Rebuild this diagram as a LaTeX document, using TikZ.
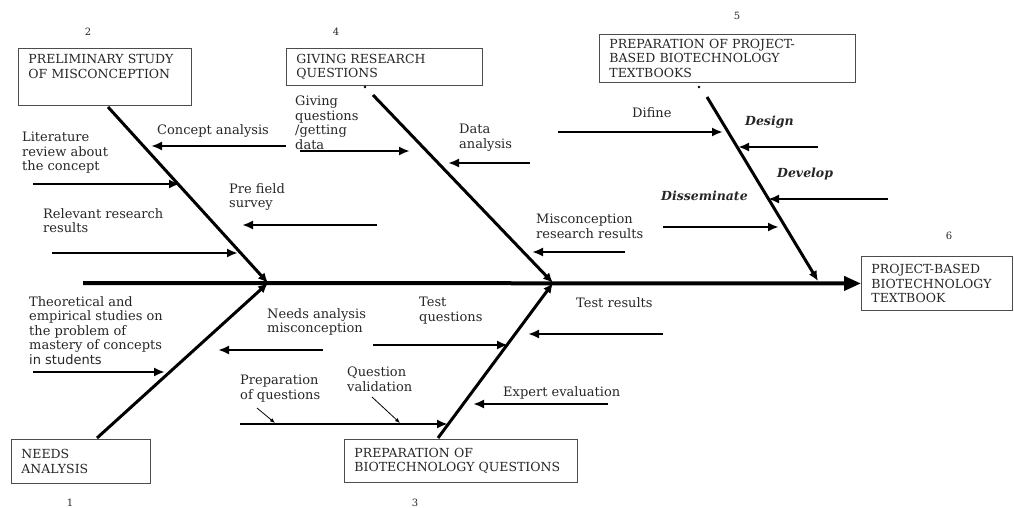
\documentclass[tikz,border=0pt]{standalone}
\usepackage{fontspec}
\setmainfont{DejaVu Serif}
\newfontfamily\studfont{DejaVu Sans}
\usepackage{tikz}
\usetikzlibrary{arrows.meta}

\begin{document}
\begin{tikzpicture}[x=1pt,y=-1pt]
	\useasboundingbox (0,0) rectangle (1014,508);
	\tikzstyle{every node}+=[inner sep=0pt,anchor=north west,align=left,text=black!85,font=\fontsize{13}{14.5}\selectfont]
	\tikzstyle{stage}=[draw=black!70,line width=0.9pt,inner xsep=10pt,inner ysep=3pt,font=\fontsize{12.5}{14.5}\selectfont]
	\tikzstyle{num}=[anchor=north,font=\fontsize{10}{12}\selectfont]
	\tikzstyle{phase}=[font=\fontsize{12.5}{14.5}\selectfont\bfseries\itshape]
	\tikzstyle{spine}=[line width=4pt,-{Triangle[length=17pt,width=14pt]}]
	\tikzstyle{bone}=[line width=3pt,-{Latex[length=10pt,width=9pt]}]
	\tikzstyle{pointer}=[line width=0.8pt,-{Latex[length=5pt,width=4pt]}]
	% stage boxes
	\node[stage,text width=153pt,text depth=36pt,inner ysep=6pt] (prelim) at (18,48) {PRELIMINARY STUDY\\OF MISCONCEPTION};
	\node[stage,text width=176pt,minimum height=37pt] (giving) at (286,48) {GIVING RESEARCH\\QUESTIONS};
	\node[stage,text width=236pt,minimum height=48pt] (textbooks) at (599,34) {PREPARATION OF PROJECT-\\BASED BIOTECHNOLOGY\\TEXTBOOKS};
	\node[stage,text width=131pt,minimum height=54pt] (result) at (861,256) {PROJECT-BASED\\BIOTECHNOLOGY\\TEXTBOOK};
	\node[stage,text width=119pt,minimum height=44pt] (needs) at (11,439) {NEEDS\\ANALYSIS};
	\node[stage,text width=213pt,minimum height=43pt] (questions) at (344,439) {PREPARATION OF\\BIOTECHNOLOGY QUESTIONS};
	% numbers
	\node[num] (n1) at (70,499) {1};
	\node[num] (n2) at (88,28) {2};
	\node[num] (n3) at (415,499) {3};
	\node[num] (n4) at (336,28) {4};
	\node[num] (n5) at (737,12) {5};
	\node[num] (n6) at (949,232) {6};
	% spine and bones
	\coordinate (tail) at (83,283);
	\coordinate (j1) at (268,283);
	\coordinate (j2) at (553,283);
	\coordinate (j3) at (818,281);
	\coordinate (s1) at (97,438);
	\coordinate (s2) at (108,107);
	\coordinate (s3) at (438,438);
	\coordinate (s4) at (373,95);
	\coordinate (s5) at (707,97);
	\draw[spine] (tail) -- (result.west);
	\draw[bone] (s1) -- (j1);
	\draw[bone] (s2) -- (j1);
	\draw[bone] (s3) -- (j2);
	\draw[bone] (s4) -- (j2);
	\draw[bone] (s5) -- (j3);
	\fill (365,87) circle (1.3);
	\fill (699,87) circle (1.3);
	% labels
	\node (concept) at (157,124) {Concept analysis};
	\node (literature) at (22,132) {Literature\\review about\\the concept};
	\node (gq) at (295,96) {Giving\\questions\\/getting\\data};
	\node (prefield) at (229,183) {Pre field\\survey};
	\node (relevant) at (43,208) {Relevant research\\results};
	\node (data) at (459,124) {Data\\analysis};
	\node (difine) at (632,107) {Difine};
	\node[phase] (design) at (745,116) {Design};
	\node[phase] (develop) at (777,168) {Develop};
	\node[phase] (dissem) at (661,191) {Disseminate};
	\node (misres) at (536,214) {Misconception\\research results};
	\node (theory) at (29,296) {Theoretical and\\empirical studies on\\the problem of\\mastery of concepts\\{\studfont in students}};
	\node (needsmis) at (267,308) {Needs analysis\\misconception};
	\node (testq) at (419,297) {Test\\questions};
	\node (testres) at (576,297) {Test results};
	\node (expert) at (503,386) {Expert evaluation};
	\node (prepq) at (240,375) {Preparation\\of questions};
	\node (qval) at (347,367) {Question\\validation};
	% ribs
	\coordinate (r1a) at (286,146);  \coordinate (r1b) at (151,146);
	\coordinate (r2a) at (33,184);   \coordinate (r2b) at (180,184);
	\coordinate (r3a) at (300,151);  \coordinate (r3b) at (410,151);
	\coordinate (r4a) at (377,225);  \coordinate (r4b) at (242,225);
	\coordinate (r5a) at (52,253);   \coordinate (r5b) at (238,253);
	\coordinate (r6a) at (530,163);  \coordinate (r6b) at (448,163);
	\coordinate (r7a) at (558,132);  \coordinate (r7b) at (723,132);
	\coordinate (r8a) at (818,147);  \coordinate (r8b) at (738,147);
	\coordinate (r9a) at (888,199);  \coordinate (r9b) at (768,199);
	\coordinate (r10a) at (663,227); \coordinate (r10b) at (779,227);
	\coordinate (r11a) at (625,252); \coordinate (r11b) at (532,252);
	\coordinate (r12a) at (33,372);  \coordinate (r12b) at (165,372);
	\coordinate (r13a) at (323,350); \coordinate (r13b) at (218,350);
	\coordinate (r14a) at (373,345); \coordinate (r14b) at (508,345);
	\coordinate (r15a) at (663,334); \coordinate (r15b) at (528,334);
	\coordinate (r16a) at (608,404); \coordinate (r16b) at (473,404);
	\coordinate (r17a) at (240,424); \coordinate (r17b) at (448,424);
	\tikzstyle{every edge}+=[line width=2.5pt,-{Latex[length=11pt,width=9pt]}]
	\draw
	(r1a) edge (r1b)
	(r2a) edge (r2b)
	(r3a) edge (r3b)
	(r4a) edge (r4b)
	(r5a) edge (r5b)
	(r6a) edge (r6b)
	(r7a) edge (r7b)
	(r8a) edge (r8b)
	(r9a) edge (r9b)
	(r10a) edge (r10b)
	(r11a) edge (r11b)
	(r12a) edge (r12b)
	(r13a) edge (r13b)
	(r14a) edge (r14b)
	(r15a) edge (r15b)
	(r16a) edge (r16b)
	(r17a) edge (r17b)
	;
	% small pointers onto the lower rib
	\coordinate (p1a) at (257,408); \coordinate (p1b) at (275,423);
	\coordinate (p2a) at (372,397); \coordinate (p2b) at (400,423);
	\draw[pointer] (p1a) -- (p1b);
	\draw[pointer] (p2a) -- (p2b);
\end{tikzpicture}
\end{document}
